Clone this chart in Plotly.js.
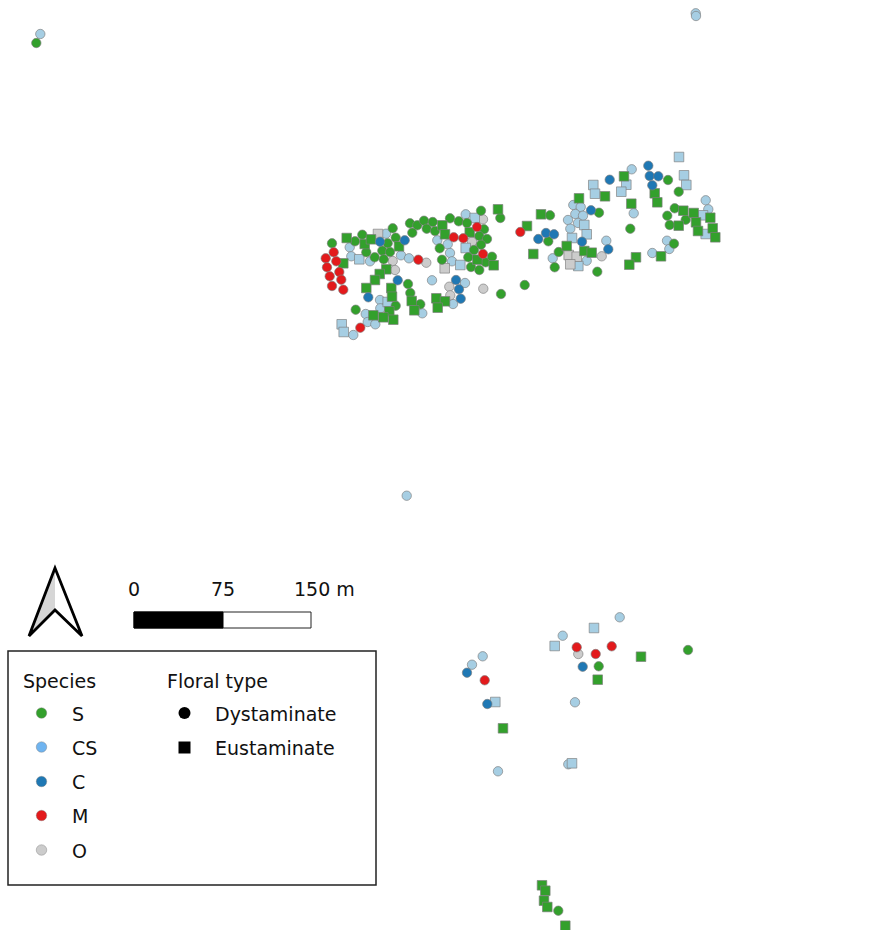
<!DOCTYPE html>
<html><head><meta charset="utf-8">
<script src="https://cdn.plot.ly/plotly-3.0.1.min.js"></script>
<style>html,body{margin:0;padding:0;background:#fff}#c{width:876px;height:930px}</style></head>
<body><div id="c"></div>
<script>
const lightCircleX=[40.3,695.7,696,406.7,349.7,351.3,370,386,401,409,437.3,447.7,450,452,465.7,432,465,453,422.3,380,380.3,365.7,367.7,375.3,353.3,631.7,573.3,580.7,575.3,583,568,578,570.3,606.3,552.7,586.7,633.7,652.3,667,669.3,705.7,708.3,619.7,562.7,482.7,472,575,498,568.3];
const lightCircleY=[34,13.3,16,495.7,247.3,256.3,261.3,233.7,255.3,258.3,240.3,244.3,253,261.3,214.3,280.3,283,304,313.3,300,308.3,314,322,324.3,335,169.3,205,207,214,215.7,220,223,228.7,240.7,258.3,260.7,213.3,253,240.7,249,200.3,209.3,617.3,635.7,656.3,664.7,702.3,771.3,764.3];
const lightSquareX=[359.3,341.7,343.7,387.7,465.7,474.7,460.3,679,684,686.3,593.3,595,626.3,621.3,584.3,586.7,572,578.3,703,705.7,594,554.7,495.3,572];
const lightSquareY=[259.3,324.3,332,302,248,218,265,157,175.3,185,185,193.7,184.7,191.7,225,234.3,238,266,215.3,234,628,646,702,763.3];
const grayCircleX=[392.7,395,426.3,483,472,449.3,450.3,483.3,601.7,578.3];
const grayCircleY=[261,270,262.7,219.3,241.7,286.7,295.3,288.7,256.3,654];
const graySquareX=[378,444.7,568.7,576.7,570.3];
const graySquareY=[234,268.3,255,256.7,264.3];
const greenSquareX=[346.7,364.7,371,399,343.3,386.3,379.7,375,366.3,391.3,392,411.7,414.3,389.3,373.3,383.3,393.3,436.3,445,437.7,442.3,445,469.7,498,477.3,493.7,541,527,533.3,579,605,624,631.3,654.7,657.3,566.7,584.3,591.7,636,629.3,661,683.3,693.7,696,678.7,698,710.3,712.7,715.3,641,597.7,503,542,545.3,544,547.3,565.3];
const greenSquareY=[238,244,239.3,246.3,263.3,269.3,274,280,288,288,296.7,301,310.3,311.3,315.3,317.3,319.7,298.3,301.3,307.7,225.3,234.3,232.3,209.3,259.7,265.3,214.3,226,254,198.3,196.3,176.3,203.7,193.3,202.3,246,251,252.7,257.3,264.7,256.3,210.7,213,222.3,225.7,231,217.7,228.3,237.3,656.7,679.7,728.3,885.3,890.7,900.7,907,925.7];
const greenCircleX=[36.3,332,355,362.3,366.3,374.7,382.3,387.7,390,383.7,392.7,395.7,410,417.3,424,432.7,412.3,426.7,435,450,458.7,467,481,500.3,484,479.3,487,481,474,439.7,442,468.3,485.7,492,471,479.3,408,410.3,420.3,395.7,355.7,501,550,548.3,558.7,554.7,597.3,599,630.3,668,678.7,674.7,667.3,685.7,669.7,674,524.7,598.7,688,558.3];
const greenCircleY=[43,243.3,241.3,234.7,252.3,257.3,250.7,243.3,252,259.3,228.3,237.7,223.3,225.3,220.7,222,232.7,228.7,231,218.3,221.3,223,210.7,218,229.3,236,239,244.7,250,248.3,259.7,257.3,262.3,256.7,267,270,284,293,304.3,305.7,309.7,294,215.3,241.3,252,267.3,271.7,212.7,228.7,180,191.7,208.3,215.7,219.7,225,243.7,285,666.3,650,910.7];
const darkCircleX=[380,404.7,397.7,368.3,456,459,460.7,609.7,648.3,649.7,658.3,652.3,591,546,554,538.3,582,608.3,582.7,467,487.3];
const darkCircleY=[241.7,240.3,280.3,297.3,280,289.3,298.7,179.7,165.7,176,176.3,185.3,210.3,233,234.3,239,241.7,249.3,666.7,672.7,704];
const redCircleX=[333.7,325.7,336.3,327,339.3,329.7,341.3,332,343.3,360.3,418.3,453.7,463.3,477,483,520.3,576.7,595.7,611.7,484.7];
const redCircleY=[252.3,258.3,261.3,267.3,272,276.3,279.7,286,289.7,327.7,259.7,237.3,238.3,227,254,232,647.3,654,646.3,680.3];
const speciesNames=["S","CS","C","M","O"];
const speciesColors=["#33a02c","#6fb4f0","#1f78b4","#e31a1c","#cccccc"];
const speciesKeyX=[41.5,41.5,41.5,41.5,41.5];
const speciesKeyY=[713,747,781.5,815.5,850];
const floralNames=["Dystaminate","Eustaminate"];
const floralKeyX=[184.5,184.5];
const floralKeyY=[713,747.5];
const scaleLabels=["0","75","150 m"];

const FONT='"DejaVu Sans", sans-serif';
const edge={color:'rgba(125,125,125,0.65)',width:1};
function pts(x,y,color,symbol){
  return {type:'scatter',mode:'markers',x:x,y:y,hoverinfo:'skip',cliponaxis:false,
    marker:{color:color,symbol:symbol,size:symbol==='square'?9.6:9.4,line:edge}};
}
const traces=[
  pts(lightCircleX,lightCircleY,'#a6cee3','circle'),
  pts(grayCircleX,grayCircleY,'#cccccc','circle'),
  pts(lightSquareX,lightSquareY,'#a6cee3','square'),
  pts(graySquareX,graySquareY,'#cccccc','square'),
  pts(greenCircleX,greenCircleY,'#33a02c','circle'),
  pts(greenSquareX,greenSquareY,'#33a02c','square'),
  pts(darkCircleX,darkCircleY,'#1f78b4','circle'),
  pts(redCircleX,redCircleY,'#e31a1c','circle'),
  {type:'scatter',mode:'markers',x:speciesKeyX,y:speciesKeyY,hoverinfo:'skip',
    marker:{color:speciesColors,symbol:'circle',size:10.5,line:{color:'rgba(120,120,120,0.5)',width:0.8}}},
  {type:'scatter',mode:'markers',x:floralKeyX,y:floralKeyY,hoverinfo:'skip',
    marker:{color:'#000',symbol:['circle','square'],size:12,line:{width:0}}}
];
function label(t,x,y,anchor){
  return {text:t,x:x,y:y,xref:'x',yref:'y',xanchor:anchor||'left',yanchor:'middle',showarrow:false,
    font:{family:FONT,size:19,color:'#111'},borderpad:0};
}
const annotations=[
  label(scaleLabels[0],134,588.5,'center'),
  label(scaleLabels[1],223,588.5,'center'),
  label(scaleLabels[2],324,588.5,'center'),
  label('Species',22,680.5),
  label('Floral type',166,680.5),
  label(floralNames[0],214,713.5),
  label(floralNames[1],214,747.5)
];
speciesNames.forEach((n,i)=>annotations.push(label(n,70.5,speciesKeyY[i]+0.5)));
const shapes=[
  {type:'rect',xref:'x',yref:'y',x0:8,x1:376,y0:651,y1:885,line:{color:'#222',width:1.5},fillcolor:'#fff',layer:'below'},
  {type:'rect',xref:'x',yref:'y',x0:134,x1:311,y0:612,y1:628,line:{color:'#222',width:1},fillcolor:'#fff'},
  {type:'rect',xref:'x',yref:'y',x0:134,x1:223,y0:612,y1:628,line:{color:'#000',width:1},fillcolor:'#000'},
  {type:'path',xref:'x',yref:'y',path:'M55,568 L29,636 L55,610 Z',line:{width:0},fillcolor:'#d6d6d6'},
  {type:'path',xref:'x',yref:'y',path:'M55,568 L29,636 L55,610 L82,636 Z',line:{color:'#000',width:2.8},fillcolor:'rgba(0,0,0,0)'}
];
Plotly.newPlot('c',traces,{
  width:876,height:930,margin:{l:0,r:0,t:0,b:0},showlegend:false,
  paper_bgcolor:'#fff',plot_bgcolor:'#fff',
  xaxis:{range:[0,876],visible:false,fixedrange:true},
  yaxis:{range:[930,0],visible:false,fixedrange:true},
  shapes:shapes,annotations:annotations
},{displayModeBar:false,staticPlot:true});
</script></body></html>
